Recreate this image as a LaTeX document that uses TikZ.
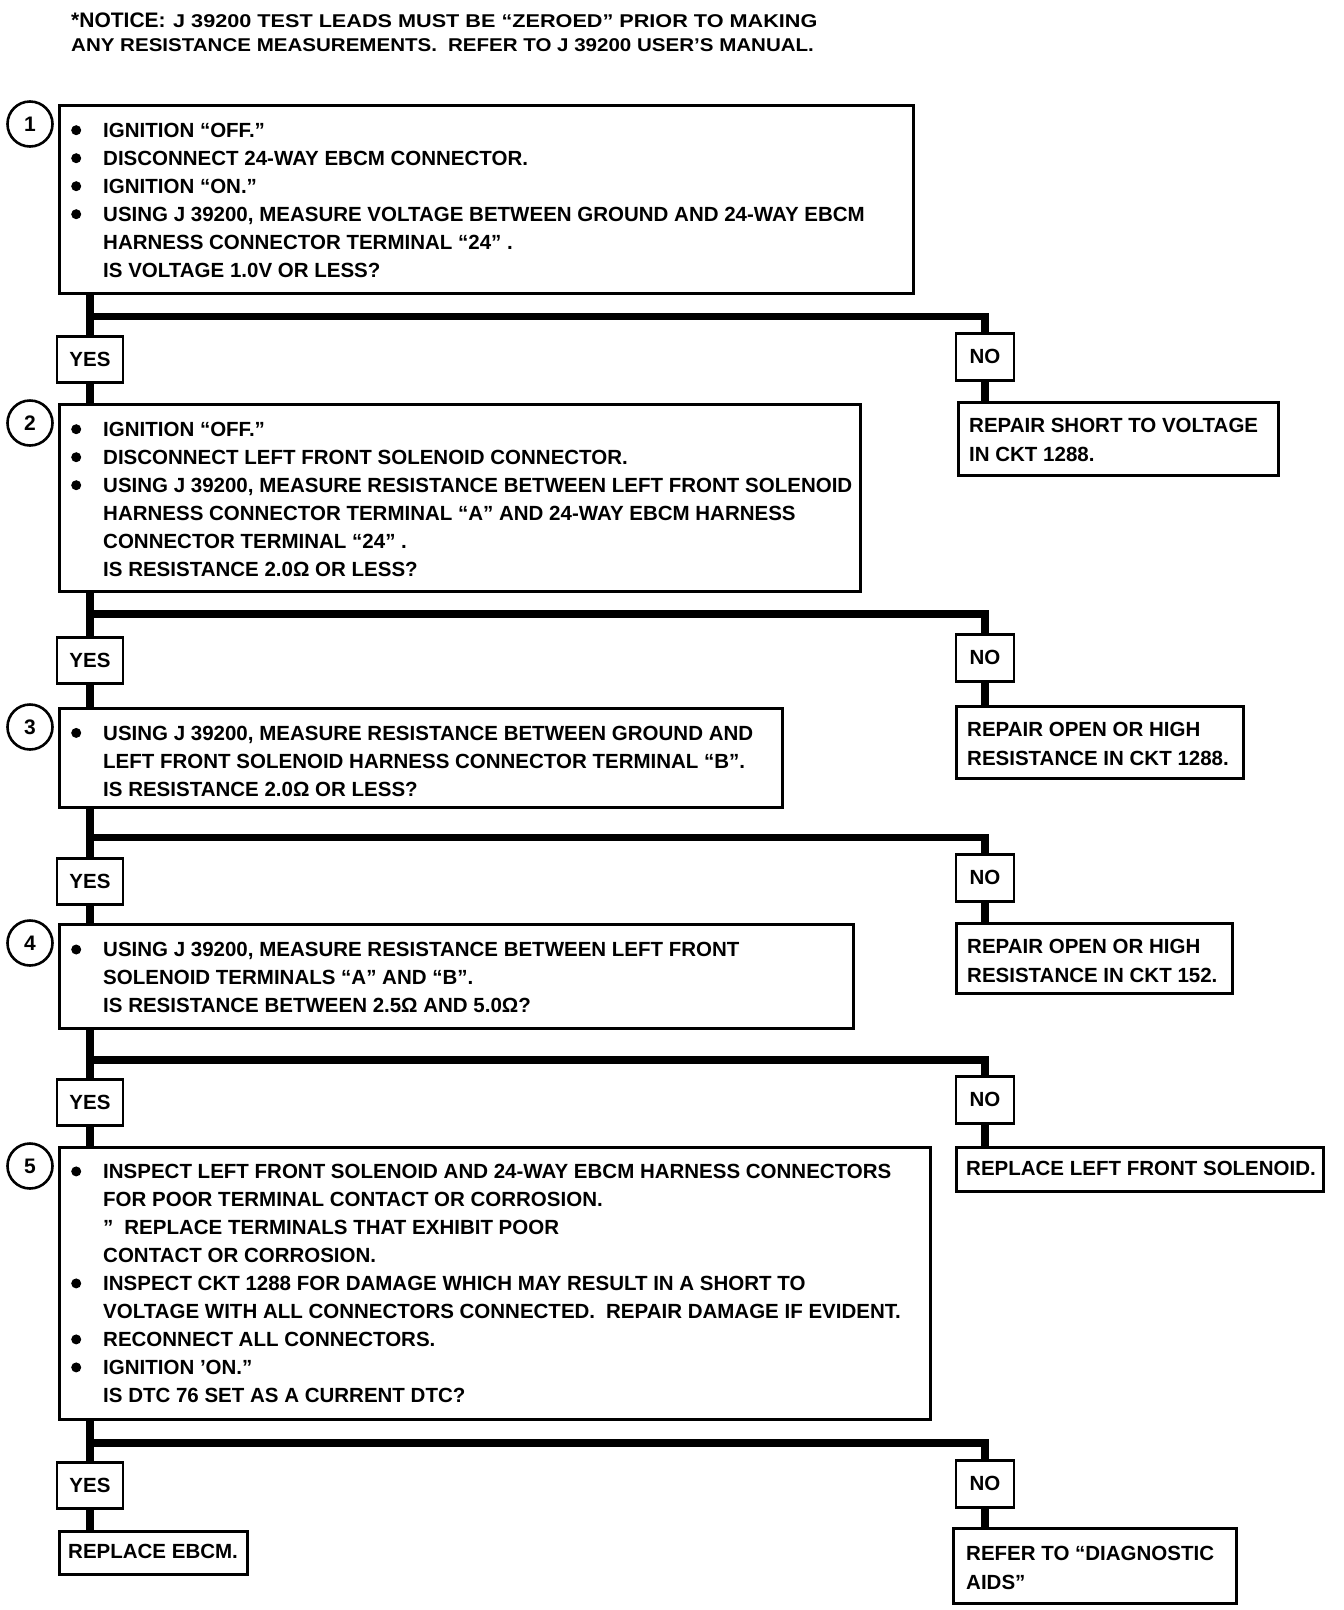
\documentclass[tikz,border=0pt]{standalone}
\usepackage{fontspec}
\setmainfont{Liberation Sans}
\newfontfamily\hdrfont{Liberation Sans}[FakeStretch=1.11]
\newfontfamily\hdrwide{Liberation Sans}[FakeStretch=1.17]
\newcommand\bul{\makebox[32pt][l]{\tikz[baseline=0pt]\fill (0pt,7.3pt) circle[radius=5pt];}}
\newcommand\ind{\hspace*{32pt}}
\newcommand\st{\rule{0pt}{20pt}}
\begin{document}
\begin{tikzpicture}[x=1pt,y=-1pt,
  stepbox/.style={draw, line width=2.8pt, rectangle, inner sep=0pt, anchor=north west},
  yn/.style={draw, line width=2.8pt, rectangle, inner sep=0pt, anchor=north, font=\fontsize{20.5}{24}\selectfont\bfseries},
  txt/.style={anchor=north west, inner sep=0pt, align=left, font=\fontsize{20.5}{28}\selectfont\bfseries},
  rtxt/.style={anchor=north west, inner sep=0pt, align=left, font=\fontsize{20.5}{29}\selectfont\bfseries},
  one/.style={anchor=west, inner sep=0pt, font=\fontsize{20.5}{24}\selectfont\bfseries},
  hdr/.style={inner sep=0pt, font=\hdrfont\fontsize{18.5}{22}\selectfont\bfseries},
  hdrw/.style={inner sep=0pt, font=\hdrwide\fontsize{18.5}{22}\selectfont\bfseries},
  num/.style={circle, draw, line width=2.6pt, minimum size=45pt, inner sep=0pt, font=\fontsize{21}{24}\selectfont\bfseries},
  stem/.style={line width=7.5pt}
]
\fill[white] (0,0) rectangle (1344,1610);
\useasboundingbox (0,0) rectangle (1344,1610);

% header
\node[inner sep=0pt, anchor=base west, font=\fontsize{21}{24}\selectfont\bfseries] (h1) at (71,27.5) {*NOTICE:};
\node[hdrw, anchor=base west] (h2) at (173,27.5) {J 39200 TEST LEADS MUST BE “ZEROED” PRIOR TO MAKING};
\node[hdr, anchor=base west] (h3) at (71,51) {ANY RESISTANCE MEASUREMENTS.\hspace{11pt}REFER TO J 39200 USER’S MANUAL.};

% step boxes
\node[stepbox, minimum width=854pt, minimum height=188pt] (b1) at (58,104) {};
\node[stepbox, minimum width=801pt, minimum height=187pt] (b2) at (58,403) {};
\node[stepbox, minimum width=723pt, minimum height=99pt] (b3) at (58,706.7) {};
\node[stepbox, minimum width=794pt, minimum height=103.4pt] (b4) at (58,923.3) {};
\node[stepbox, minimum width=871pt, minimum height=272pt] (b5) at (58,1146) {};

% circled numbers
\node[num] (c1) at (30,124) {1};
\node[num] (c2) at (30,423) {2};
\node[num] (c3) at (30,727) {3};
\node[num] (c4) at (30,943) {4};
\node[num] (c5) at (30,1166) {5};

% step texts
\node[txt] (t1) at (71,117.3) {\st\bul IGNITION “OFF.”\\
\bul DISCONNECT 24-WAY EBCM CONNECTOR.\\
\bul IGNITION “ON.”\\
\bul USING J 39200, MEASURE VOLTAGE BETWEEN GROUND AND 24-WAY EBCM\\
\ind HARNESS CONNECTOR TERMINAL “24” .\\
\ind IS VOLTAGE 1.0V OR LESS?};

\node[txt] (t2) at (71,416.3) {\st\bul IGNITION “OFF.”\\
\bul DISCONNECT LEFT FRONT SOLENOID CONNECTOR.\\
\bul USING J 39200, MEASURE RESISTANCE BETWEEN LEFT FRONT SOLENOID\\
\ind HARNESS CONNECTOR TERMINAL “A” AND 24-WAY EBCM HARNESS\\
\ind CONNECTOR TERMINAL “24” .\\
\ind IS RESISTANCE 2.0Ω OR LESS?};

\node[txt] (t3) at (71,720) {\st\bul USING J 39200, MEASURE RESISTANCE BETWEEN GROUND AND\\
\ind LEFT FRONT SOLENOID HARNESS CONNECTOR TERMINAL “B”.\\
\ind IS RESISTANCE 2.0Ω OR LESS?};

\node[txt] (t4) at (71,936.6) {\st\bul USING J 39200, MEASURE RESISTANCE BETWEEN LEFT FRONT\\
\ind SOLENOID TERMINALS “A” AND “B”.\\
\ind IS RESISTANCE BETWEEN 2.5Ω AND 5.0Ω?};

\node[txt] (t5) at (71,1158.5) {\st\bul INSPECT LEFT FRONT SOLENOID AND 24-WAY EBCM HARNESS CONNECTORS\\
\ind FOR POOR TERMINAL CONTACT OR CORROSION.\\
\ind ”\hspace{11pt}REPLACE TERMINALS THAT EXHIBIT POOR\\
\ind CONTACT OR CORROSION.\\
\bul INSPECT CKT 1288 FOR DAMAGE WHICH MAY RESULT IN A SHORT TO\\
\ind VOLTAGE WITH ALL CONNECTORS CONNECTED.\hspace{11pt}REPAIR DAMAGE IF EVIDENT.\\
\bul RECONNECT ALL CONNECTORS.\\
\bul IGNITION ’ON.”\\
\ind IS DTC 76 SET AS A CURRENT DTC?};

% YES / NO boxes
\node[yn, minimum width=66pt, minimum height=46pt] (y1) at (90,335) {YES};
\node[yn, minimum width=66pt, minimum height=46pt] (y2) at (90,636) {YES};
\node[yn, minimum width=66pt, minimum height=46pt] (y3) at (90,857) {YES};
\node[yn, minimum width=66pt, minimum height=46pt] (y4) at (90,1078) {YES};
\node[yn, minimum width=66pt, minimum height=46pt] (y5) at (90,1461) {YES};

\node[yn, minimum width=58pt, minimum height=47pt] (n1) at (985,332) {NO};
\node[yn, minimum width=58pt, minimum height=47pt] (n2) at (985,633) {NO};
\node[yn, minimum width=58pt, minimum height=47pt] (n3) at (985,853) {NO};
\node[yn, minimum width=58pt, minimum height=47pt] (n4) at (985,1075) {NO};
\node[yn, minimum width=58pt, minimum height=47pt] (n5) at (985,1459) {NO};

% result boxes
\node[stepbox, minimum width=320pt, minimum height=73pt] (r1) at (957,401) {};
\node[stepbox, minimum width=287pt, minimum height=72pt] (r2) at (955,705) {};
\node[stepbox, minimum width=276pt, minimum height=70pt] (r3) at (955,922) {};
\node[stepbox, minimum width=367pt, minimum height=44pt] (r4) at (955,1146) {};
\node[stepbox, minimum width=283pt, minimum height=75pt] (r5) at (952,1527) {};
\node[stepbox, minimum width=188pt, minimum height=43pt] (r6) at (58,1530) {};

\node[rtxt] (rt1) at (969,412.5) {\st REPAIR SHORT TO VOLTAGE\\IN CKT 1288.};
\node[rtxt] (rt2) at (967,716.5) {\st REPAIR OPEN OR HIGH\\RESISTANCE IN CKT 1288.};
\node[rtxt] (rt3) at (967,933.5) {\st REPAIR OPEN OR HIGH\\RESISTANCE IN CKT 152.};
\node[one] (rt4) at (966,1168) {REPLACE LEFT FRONT SOLENOID.};
\node[rtxt] (rt5) at (966,1540) {\st REFER TO “DIAGNOSTIC\\AIDS”};
\node[one] (rt6) at (68,1551.5) {REPLACE EBCM.};

% junctions
\coordinate (j1) at (90,316.5);
\coordinate (j2) at (90,614);
\coordinate (j3) at (90,837.5);
\coordinate (j4) at (90,1060);
\coordinate (j5) at (90,1443);

% connectors
\foreach \a/\y/\n/\r/\j/\nx in {b1/y1/n1/r1/j1/b2, b2/y2/n2/r2/j2/b3, b3/y3/n3/r3/j3/b4, b4/y4/n4/r4/j4/b5, b5/y5/n5/r5/j5/r6}{
  \draw[stem] (\a.south -| \y.north) -- (\y.north);
  \draw[stem] (\y.south) -- (\y.south |- \nx.north);
  \draw[stem] (\j) -- (\j -| \n.north) -- (\n.north);
  \draw[stem] (\n.south) -- (\n.south |- \r.north);
}
\end{tikzpicture}
\end{document}
